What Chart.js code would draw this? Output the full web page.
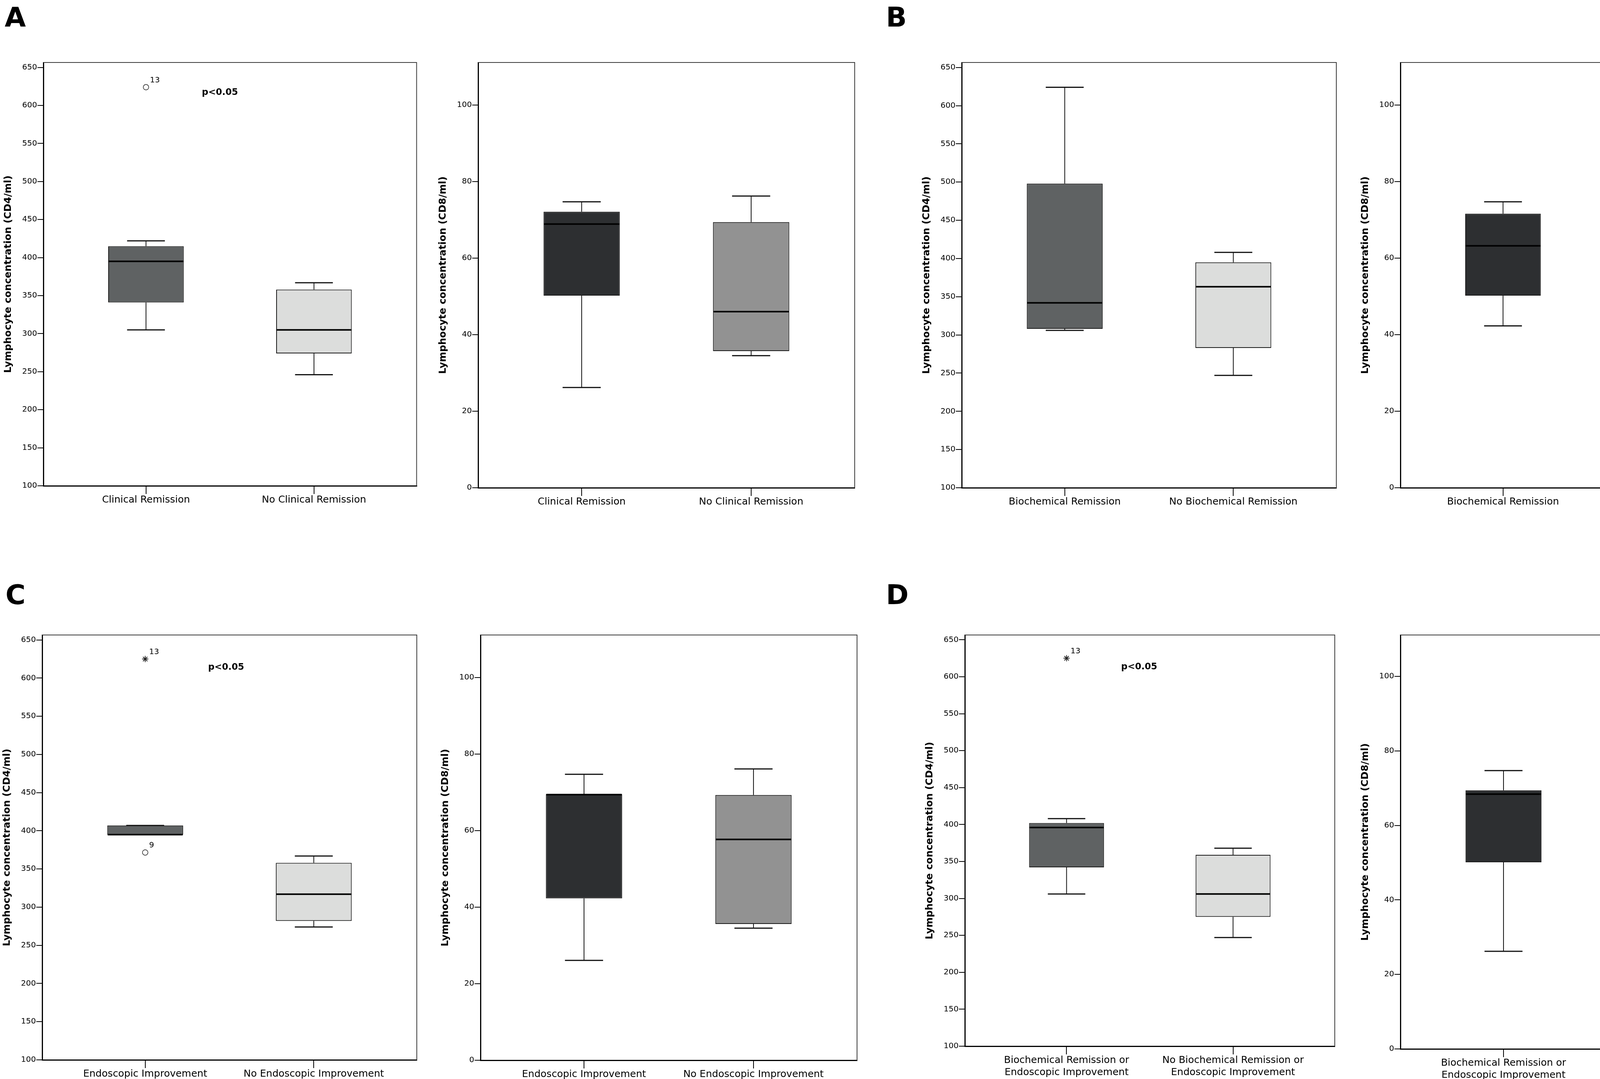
<!DOCTYPE html>
<html>
<head>
<meta charset="utf-8">
<title>Lymphocyte concentration box plots</title>
<script src="https://cdn.jsdelivr.net/npm/chart.js@4.4.1/dist/chart.umd.min.js"></script>
<style>
  html, body { margin: 0; padding: 0; background: #fff; }
  body { width: 4550px; height: 2763px; position: relative; overflow: hidden; }
  .panel { position: absolute; }
  .letter { position: absolute; font: bold 70px 'DejaVu Sans', sans-serif; line-height: 70px; color: #000; }
</style>
</head>
<body>
<div class="letter" style="left:12px;top:9px">A</div>
<div class="letter" style="left:2268px;top:9px">B</div>
<div class="letter" style="left:14px;top:1488px">C</div>
<div class="letter" style="left:2268px;top:1488px">D</div>

<div class="panel" id="wrapA4"><canvas id="chartA4"></canvas></div>
<div class="panel" id="wrapA8"><canvas id="chartA8"></canvas></div>
<div class="panel" id="wrapB4"><canvas id="chartB4"></canvas></div>
<div class="panel" id="wrapB8"><canvas id="chartB8"></canvas></div>
<div class="panel" id="wrapC4"><canvas id="chartC4"></canvas></div>
<div class="panel" id="wrapC8"><canvas id="chartC8"></canvas></div>
<div class="panel" id="wrapD4"><canvas id="chartD4"></canvas></div>
<div class="panel" id="wrapD8"><canvas id="chartD8"></canvas></div>

<script>
// Axis ticks
const cd4Ticks = [100, 150, 200, 250, 300, 350, 400, 450, 500, 550, 600, 650];
const cd8Ticks = [0, 20, 40, 60, 80, 100];

// Group names
const catsA = ['Clinical Remission', 'No Clinical Remission'];
const catsB = ['Biochemical Remission', 'No Biochemical Remission'];
const catsC = ['Endoscopic Improvement', 'No Endoscopic Improvement'];
const catsD = [['Biochemical Remission or', 'Endoscopic Improvement'],
               ['No Biochemical Remission or', 'Endoscopic Improvement']];

// Box summaries per group: [lower whisker, Q1, median, Q3, upper whisker]
const cd4A = [[305, 341, 395, 415, 422], [246, 274, 305, 358, 367]];
const cd8A = [[26.2, 50.2, 68.9, 72.1, 74.7], [34.5, 35.7, 46, 69.4, 76.2]];
const cd4B = [[306, 308, 342, 498, 624], [247, 283, 363, 395, 408]];
const cd8B = [[42.3, 50.2, 63.2, 71.6, 74.7], [26.2, 34.6, 40.2, 47, 47]];
const cd4C = [[395, 395, 395, 407, 407], [274, 282, 317, 358, 367]];
const cd8C = [[26.1, 42.3, 69.4, 69.5, 74.7], [34.5, 35.6, 57.7, 69.3, 76.1]];
const cd4D = [[306, 342, 396, 402, 408], [247, 275, 306, 359, 368]];
const cd8D = [[26.2, 50.1, 68.4, 69.4, 74.7], [34.6, 35.7, 46, 69.4, 76.1]];

// Outlying cases: group (1 or 2), value, case number, marker
const outA4 = [{ g: 1, v: 624, id: '13', mark: 'circle' }];
const outB8 = [{ g: 2, v: 69.4, id: '11', mark: 'dot' }];
const outC4 = [{ g: 1, v: 625, id: '13', mark: 'star' }, { g: 1, v: 371.6, id: '9', mark: 'circle' }];
const outD4 = [{ g: 1, v: 625, id: '13', mark: 'star' }];

const FONT = "'DejaVu Sans', Verdana, sans-serif";
const CD4_COLORS = ['#5f6263', '#dcdddc'];
const CD8_COLORS = ['#2d2f31', '#929292'];
const Y_AXIS_W = 110;
const X_AXIS_H = 80;
const PAD = 4;

// whiskers, medians, case labels, p-value note and the top/right frame
const boxExtras = {
    id: 'boxExtras',
    afterDatasetsDraw(chart) {
        const { ctx, chartArea, scales } = chart;
        const ds = chart.data.datasets[0];
        const meta = chart.getDatasetMeta(0);
        const yScale = scales.y;

        ctx.save();
        ctx.strokeStyle = '#111';
        meta.data.forEach((bar, i) => {
            const s = ds.stats[i];
            const half = bar.width / 2;
            const capHalf = bar.width / 4;
            const yLo = yScale.getPixelForValue(s[0]);
            const yQ1 = yScale.getPixelForValue(s[1]);
            const yMed = yScale.getPixelForValue(s[2]);
            const yQ3 = yScale.getPixelForValue(s[3]);
            const yHi = yScale.getPixelForValue(s[4]);

            ctx.lineWidth = 2;
            ctx.beginPath();
            if (s[4] > s[3]) { ctx.moveTo(bar.x, yQ3); ctx.lineTo(bar.x, yHi); }
            if (s[0] < s[1]) { ctx.moveTo(bar.x, yQ1); ctx.lineTo(bar.x, yLo); }
            ctx.stroke();

            ctx.lineWidth = 3;
            ctx.beginPath();
            if (s[4] >= s[3]) { ctx.moveTo(bar.x - capHalf, yHi); ctx.lineTo(bar.x + capHalf, yHi); }
            if (s[0] < s[1]) { ctx.moveTo(bar.x - capHalf, yLo); ctx.lineTo(bar.x + capHalf, yLo); }
            ctx.stroke();

            ctx.lineWidth = 4;
            ctx.strokeStyle = '#000';
            ctx.beginPath();
            ctx.moveTo(bar.x - half + 1, yMed);
            ctx.lineTo(bar.x + half - 1, yMed);
            ctx.stroke();
            ctx.strokeStyle = '#111';
        });

        // case numbers next to outliers
        const outDs = chart.data.datasets[1];
        if (outDs) {
            const outMeta = chart.getDatasetMeta(1);
            ctx.fillStyle = '#000';
            ctx.font = '20px ' + FONT;
            ctx.textAlign = 'left';
            ctx.textBaseline = 'middle';
            outMeta.data.forEach((pt, i) => {
                ctx.fillText(outDs.ids[i], pt.x + 10, pt.y - 18);
            });
        }

        const note = chart.options.plugins.boxExtras.note;
        if (note) {
            ctx.fillStyle = '#000';
            ctx.font = 'bold 23px ' + FONT;
            ctx.textAlign = 'center';
            ctx.textBaseline = 'middle';
            ctx.fillText('p<0.05', scales.x.getPixelForValue(note.x), yScale.getPixelForValue(note.y));
        }

        // top and right sides of the frame
        ctx.strokeStyle = '#3a3a3a';
        ctx.lineWidth = 2;
        ctx.beginPath();
        ctx.moveTo(chartArea.left, chartArea.top);
        ctx.lineTo(chartArea.right, chartArea.top);
        ctx.lineTo(chartArea.right, chartArea.bottom);
        ctx.stroke();
        ctx.restore();
    }
};

function makePanel(key, rect, cats, stats, outliers, isCd4, note) {
    const wrap = document.getElementById('wrap' + key);
    const w = rect.R - rect.L + Y_AXIS_W + PAD;
    const h = rect.B - rect.T + PAD + X_AXIS_H;
    wrap.style.left = (rect.L - Y_AXIS_W) + 'px';
    wrap.style.top = (rect.T - PAD) + 'px';
    wrap.style.width = w + 'px';
    wrap.style.height = h + 'px';

    const colors = isCd4 ? CD4_COLORS : CD8_COLORS;
    const yTicks = isCd4 ? cd4Ticks : cd8Ticks;

    const datasets = [{
        type: 'bar',
        data: stats.map((s, i) => ({ x: i + 1, y: [s[1], s[3]] })),
        stats: stats,
        backgroundColor: colors,
        borderColor: '#1a1a1a',
        borderWidth: 2,
        borderSkipped: false,
        categoryPercentage: 1,
        barPercentage: 0.45
    }];

    if (outliers.length) {
        datasets.push({
            type: 'scatter',
            data: outliers.map(o => ({ x: o.g, y: o.v })),
            ids: outliers.map(o => o.id),
            pointStyle: outliers.map(o => o.mark === 'star' ? 'star' : 'circle'),
            pointRadius: outliers.map(o => o.mark === 'star' ? 8 : 7),
            pointBackgroundColor: outliers.map(o => o.mark === 'dot' ? colors[o.g - 1] : '#fff'),
            pointBorderColor: '#222',
            pointBorderWidth: outliers.map(o => o.mark === 'star' ? 2 : 1.5)
        });
    }

    new Chart(document.getElementById('chart' + key), {
        type: 'bar',
        data: { datasets },
        plugins: [boxExtras],
        options: {
            responsive: true,
            maintainAspectRatio: false,
            animation: false,
            devicePixelRatio: 1,
            layout: { padding: { top: PAD, right: PAD, left: 0, bottom: 0 } },
            plugins: {
                legend: { display: false },
                tooltip: { enabled: false },
                boxExtras: { note: note }
            },
            scales: {
                x: {
                    type: 'linear',
                    position: 'bottom',
                    offset: false,
                    min: 0.389,
                    max: 2.611,
                    afterBuildTicks: (scale) => { scale.ticks = [{ value: 1 }, { value: 2 }]; },
                    afterFit: (scale) => { scale.height = X_AXIS_H; },
                    ticks: {
                        autoSkip: false,
                        maxRotation: 0,
                        padding: 0,
                        color: '#000',
                        font: { family: FONT, size: 25, lineHeight: 1.24 },
                        callback: (value, index) => cats[index]
                    },
                    grid: { offset: false, drawOnChartArea: false, drawTicks: true, tickLength: 21, color: '#000', lineWidth: 2 },
                    border: { display: true, color: '#000', width: 3 }
                },
                y: {
                    type: 'linear',
                    min: isCd4 ? 100 : 0,
                    max: isCd4 ? 656.5 : 111.1,
                    afterBuildTicks: (scale) => { scale.ticks = yTicks.map(v => ({ value: v })); },
                    afterFit: (scale) => { scale.width = Y_AXIS_W; },
                    ticks: {
                        padding: 1,
                        color: '#000',
                        font: { family: FONT, size: 20 }
                    },
                    grid: { drawOnChartArea: false, drawTicks: true, tickLength: 15, color: '#000', lineWidth: 2 },
                    border: { display: true, color: '#000', width: 3 },
                    title: {
                        display: true,
                        text: isCd4 ? 'Lymphocyte concentration (CD4/ml)' : 'Lymphocyte concentration (CD8/ml)',
                        color: '#000',
                        font: { family: FONT, size: 25, weight: 'bold' },
                        padding: { top: 5, bottom: 0 }
                    }
                }
            }
        }
    });
}

makePanel('A4', { L: 111, R: 1071, T: 151, B: 1244 }, catsA, cd4A, outA4, true, { x: 1.44, y: 617 });
makePanel('A8', { L: 1224, R: 2188, T: 151, B: 1249 }, catsA, cd8A, [], false, null);
makePanel('B4', { L: 2462, R: 3421, T: 151, B: 1249 }, catsB, cd4B, [], true, null);
makePanel('B8', { L: 3585, R: 4545, T: 151, B: 1249 }, catsB, cd8B, outB8, false, null);
makePanel('C4', { L: 108, R: 1073, T: 1617, B: 2714 }, catsC, cd4C, outC4, true, { x: 1.48, y: 614 });
makePanel('C8', { L: 1230, R: 2194, T: 1617, B: 2715 }, catsC, cd8C, [], false, null);
makePanel('D4', { L: 2470, R: 3423, T: 1617, B: 2679 }, catsD, cd4D, outD4, true, { x: 1.436, y: 613 });
makePanel('D8', { L: 3585, R: 4545, T: 1617, B: 2686 }, catsD, cd8D, [], false, null);
</script>
</body>
</html>
